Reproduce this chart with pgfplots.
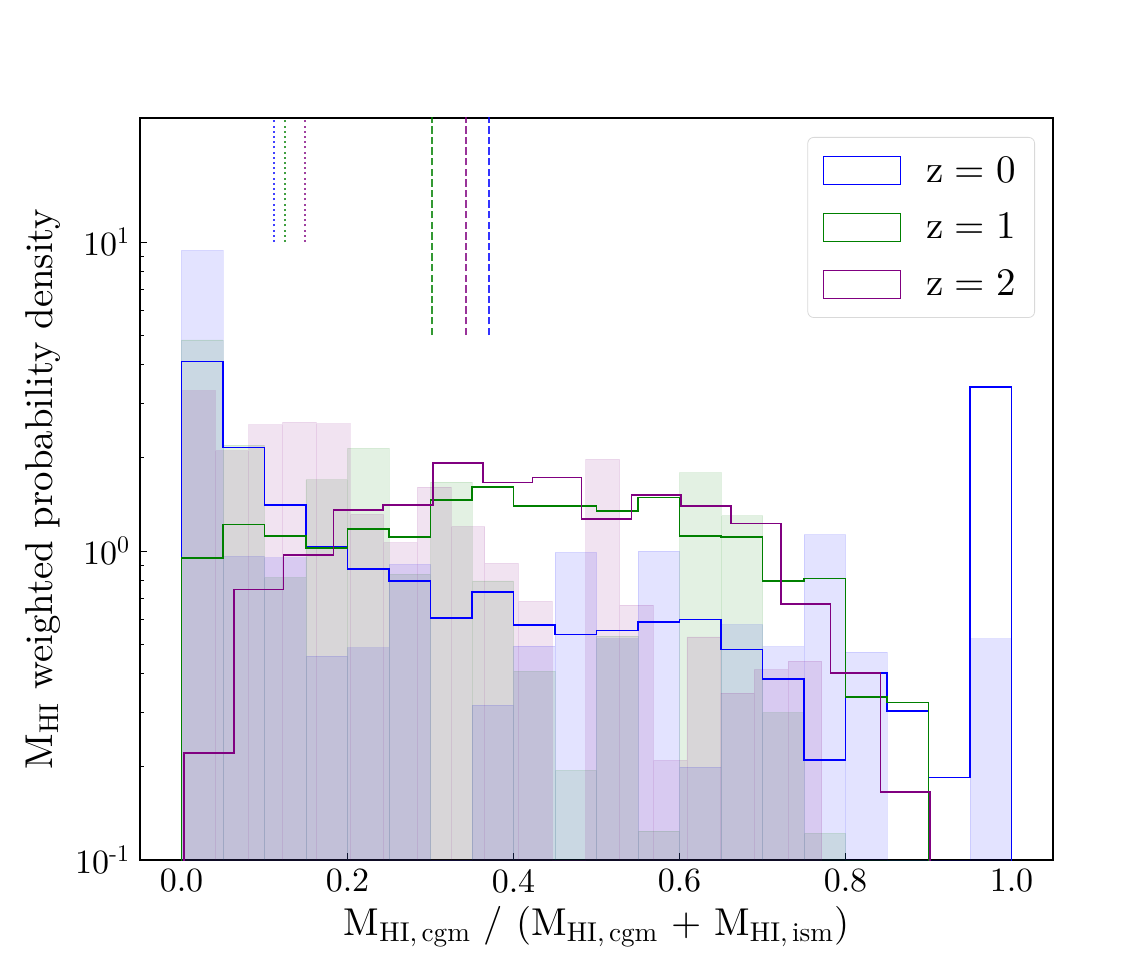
\documentclass[border=0pt]{standalone}
\usepackage{fontspec}
\setmainfont{lmroman10-regular.otf}
\usepackage{pgfplots}
\pgfplotsset{compat=1.18}
\definecolor{mplblue}{RGB}{0,0,255}
\definecolor{mplgreen}{RGB}{0,128,0}
\definecolor{mplpurple}{RGB}{128,0,128}
\newcommand{\zeq}[1]{z\hspace{0.278em}=\hspace{0.278em}#1}
\begin{document}
\begin{tikzpicture}
\useasboundingbox (-70pt,-57.5pt) rectangle (498pt,430pt);
\begin{axis}[
  at={(0pt,0pt)}, anchor=south west,
  scale only axis, width=456.5pt, height=371pt,
  ymode=log, log origin=infty,
  xmin=-0.05, xmax=1.05, ymin=0.1, ymax=25.2,
  xtick={0,0.2,0.4,0.6,0.8,1.0},
  xticklabels={0.0,0.2,0.4,0.6,0.8,1.0},
  ytick={0.1,1,10},
  yticklabels={10\textsuperscript{-1},10\textsuperscript{0},10\textsuperscript{1}},
  tick align=inside, xtick pos=bottom, ytick pos=left,
  major tick length=3.5pt, minor tick length=2pt,
  tick style={black, line width=0.5pt},
  axis line style={line width=0.6pt},
  tick label style={font=\fontsize{17}{20}\selectfont},
  yticklabel style={xshift=-1.5pt},
  xticklabel style={yshift=-1pt},
  every axis y label/.style={at={(axis description cs:-0.106,0.5)}, anchor=center, rotate=90},
  every axis x label/.style={at={(axis description cs:0.5,-0.0903)}, anchor=center},
  label style={font=\fontsize{19.4}{23}\selectfont},
  xlabel={M\textsubscript{HI,\,cgm} / (M\textsubscript{HI,\,cgm} + M\textsubscript{HI,\,ism})},
  ylabel={M\textsubscript{HI} weighted probability density},
  legend image code/.code={\draw[#1, sharp corners] (0pt,-7pt) rectangle (38.5pt,7pt);},
  legend cell align=left,
  legend style={at={(1,1)}, anchor=north east, xshift=-9pt, yshift=-9.5pt,
    draw=black!15, rounded corners=3pt, fill=white,
    font=\fontsize{19.5}{23}\selectfont,
    inner xsep=7.5pt, inner ysep=7.5pt, row sep=9.8pt,
    /tikz/every even column/.append style={column sep=0pt}},
]
% legend entries
\addlegendimage{draw=mplblue, line width=0.5pt, fill=white}
\addlegendentry{\hspace{11pt}\zeq{0}}
\addlegendimage{draw=mplgreen, line width=0.5pt, fill=white}
\addlegendentry{\hspace{11pt}\zeq{1}}
\addlegendimage{draw=mplpurple, line width=0.5pt, fill=white}
\addlegendentry{\hspace{11pt}\zeq{2}}

% shaded histograms
\addplot[ybar interval, fill=mplblue, fill opacity=0.11, draw=mplblue, draw opacity=0.1, forget plot] coordinates {
(0.00,9.4) (0.05,0.96) (0.10,0.95) (0.15,0.457) (0.20,0.486) (0.25,0.905)
(0.30,0.001) (0.35,0.317) (0.40,0.492) (0.45,0.99) (0.50,0.52) (0.55,1.0)
(0.60,0.20) (0.65,0.578) (0.70,0.49) (0.75,1.13) (0.80,0.471) (0.85,0.001)
(0.90,0.001) (0.95,0.52) (1.00,0.52)};
\addplot[ybar interval, fill=mplgreen, fill opacity=0.11, draw=mplgreen, draw opacity=0.1, forget plot] coordinates {
(0.00,4.82) (0.05,2.2) (0.10,0.82) (0.15,1.70) (0.20,2.15) (0.25,0.84)
(0.30,1.67) (0.35,0.80) (0.40,0.408) (0.45,0.195) (0.50,0.53) (0.55,0.124)
(0.60,1.79) (0.65,1.30) (0.70,0.30) (0.75,0.122) (0.80,0.001) (0.85,0.001) (0.90,0.001)};
\addplot[ybar interval, fill=mplpurple, fill opacity=0.11, draw=mplpurple, draw opacity=0.1, forget plot] coordinates {
(0.0000,3.3) (0.0406,2.11) (0.0812,2.56) (0.1218,2.61) (0.1624,2.58) (0.2030,1.315)
(0.2436,1.064) (0.2842,1.61) (0.3248,1.2) (0.3654,0.912) (0.4060,0.687) (0.4466,0.001)
(0.4872,1.98) (0.5278,0.668) (0.5684,0.21) (0.6090,0.527) (0.6496,0.347) (0.6902,0.413)
(0.7308,0.44) (0.7714,0.44)};

% step histograms
\addplot[const plot, mplblue, line width=0.8pt, forget plot] coordinates {
(0,0.001) (0.00,4.10) (0.05,2.16) (0.10,1.41) (0.15,1.03) (0.20,0.876) (0.25,0.80)
(0.30,0.608) (0.35,0.736) (0.40,0.577) (0.45,0.537) (0.50,0.553) (0.55,0.589)
(0.60,0.60) (0.65,0.48) (0.70,0.385) (0.75,0.211) (0.80,0.403) (0.85,0.304)
(0.90,0.185) (0.95,3.40) (1.00,3.40) (1.00,0.001)};
\addplot[const plot, mplgreen, line width=0.8pt, forget plot] coordinates {
(0,0.001) (0.00,0.951) (0.05,1.22) (0.10,1.118) (0.15,1.025) (0.20,1.176) (0.25,1.11)
(0.30,1.46) (0.35,1.61) (0.40,1.40) (0.45,1.40) (0.50,1.345) (0.55,1.49)
(0.60,1.118) (0.65,1.108) (0.70,0.80) (0.75,0.815) (0.80,0.337) (0.85,0.323)
(0.90,0.323) (0.90,0.001)};
\addplot[const plot, mplpurple, line width=0.8pt, forget plot] coordinates {
(0.003,0.001) (0.003,0.222) (0.063,0.751) (0.123,0.971) (0.183,1.36) (0.243,1.41)
(0.303,1.93) (0.363,1.665) (0.423,1.73) (0.482,1.267) (0.542,1.515) (0.602,1.40)
(0.662,1.226) (0.722,0.675) (0.782,0.403) (0.842,0.166) (0.902,0.166) (0.902,0.001)};

% vertical reference lines
\addplot[mplblue, opacity=0.75, line width=1pt, dash pattern=on 1pt off 1.6pt, forget plot] coordinates {(0.111,10) (0.111,30)};
\addplot[mplgreen, opacity=0.75, line width=1pt, dash pattern=on 1pt off 1.6pt, forget plot] coordinates {(0.1244,10) (0.1244,30)};
\addplot[mplpurple, opacity=0.75, line width=1pt, dash pattern=on 1pt off 1.6pt, forget plot] coordinates {(0.1486,10) (0.1486,30)};
\addplot[mplgreen, opacity=0.8, line width=1pt, dash pattern=on 3.7pt off 1.6pt, forget plot] coordinates {(0.3019,5) (0.3019,30)};
\addplot[mplpurple, opacity=0.8, line width=1pt, dash pattern=on 3.7pt off 1.6pt, forget plot] coordinates {(0.3428,5) (0.3428,30)};
\addplot[mplblue, opacity=0.8, line width=1pt, dash pattern=on 3.7pt off 1.6pt, forget plot] coordinates {(0.3707,5) (0.3707,30)};
\end{axis}
\end{tikzpicture}
\end{document}
